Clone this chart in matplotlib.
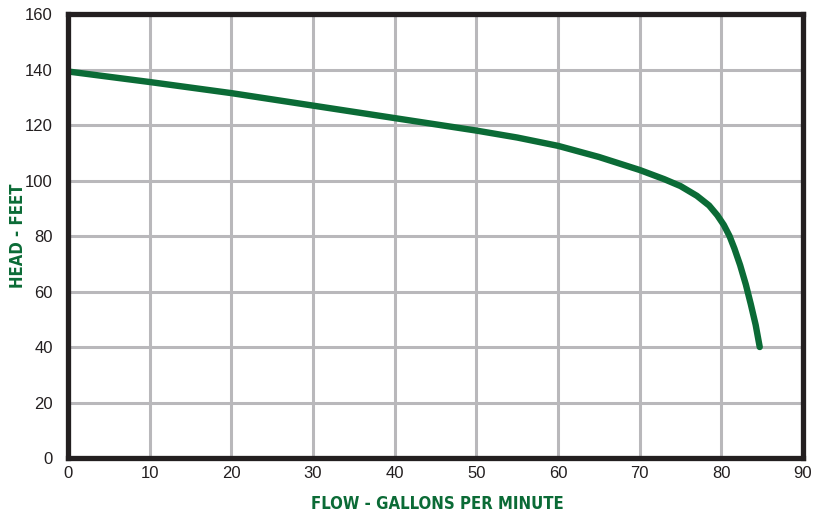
import numpy as np
import matplotlib.pyplot as plt

# Pump curve
flow = [0, 10, 20, 30, 40, 50, 55, 60, 65, 70, 73, 75, 77, 78.5, 79.5, 80.3, 81, 81.6, 82.3, 83, 83.6, 84.2, 84.7]
head = [139.3, 135.5, 131.5, 127.0, 122.5, 118.0, 115.5, 112.5, 108.5, 103.8, 100.5, 98.0, 94.5, 91.0, 87.5, 84.0, 80.0, 75.5, 69.5, 62.5, 55.5, 48.0, 40.0]

x_ticks = list(range(0, 91, 10))
y_ticks = list(range(0, 161, 20))

green = '#0b6b36'
grid_c = '#b9b8bb'
frame_c = '#231f20'

plt.rcParams['font.family'] = ['Liberation Sans', 'DejaVu Sans']

fig = plt.figure(figsize=(8.27, 5.14), dpi=100)
ax = fig.add_axes([0.0822, 0.1089, 0.8888, 0.8638])

ax.plot(flow, head, color=green, linewidth=4.6, solid_capstyle='round',
        solid_joinstyle='round', zorder=3)

ax.set_xlim(0, 90)
ax.set_ylim(0, 160)
ax.set_xticks(x_ticks)
ax.set_yticks(y_ticks)
ax.grid(True, color=grid_c, linewidth=2.2, zorder=1)
ax.tick_params(length=0, labelsize=12, labelcolor='#231f20')
ax.tick_params(axis='y', pad=11)
ax.tick_params(axis='x', pad=6)

for s in ax.spines.values():
    s.set_color(frame_c)
    s.set_linewidth(3.8)
    s.set_zorder(4)

lab = dict(color=green, fontsize=12, fontweight='bold',
           family=['DejaVu Sans'], fontstretch='condensed')
ax.set_xlabel("FLOW - GALLONS PER MINUTE", **lab)
ax.set_ylabel("HEAD - FEET", **lab)
ax.xaxis.set_label_coords(0.502, -0.083)
ax.yaxis.set_label_coords(-0.056, 0.5)

fig.savefig("out.png", dpi=100)
